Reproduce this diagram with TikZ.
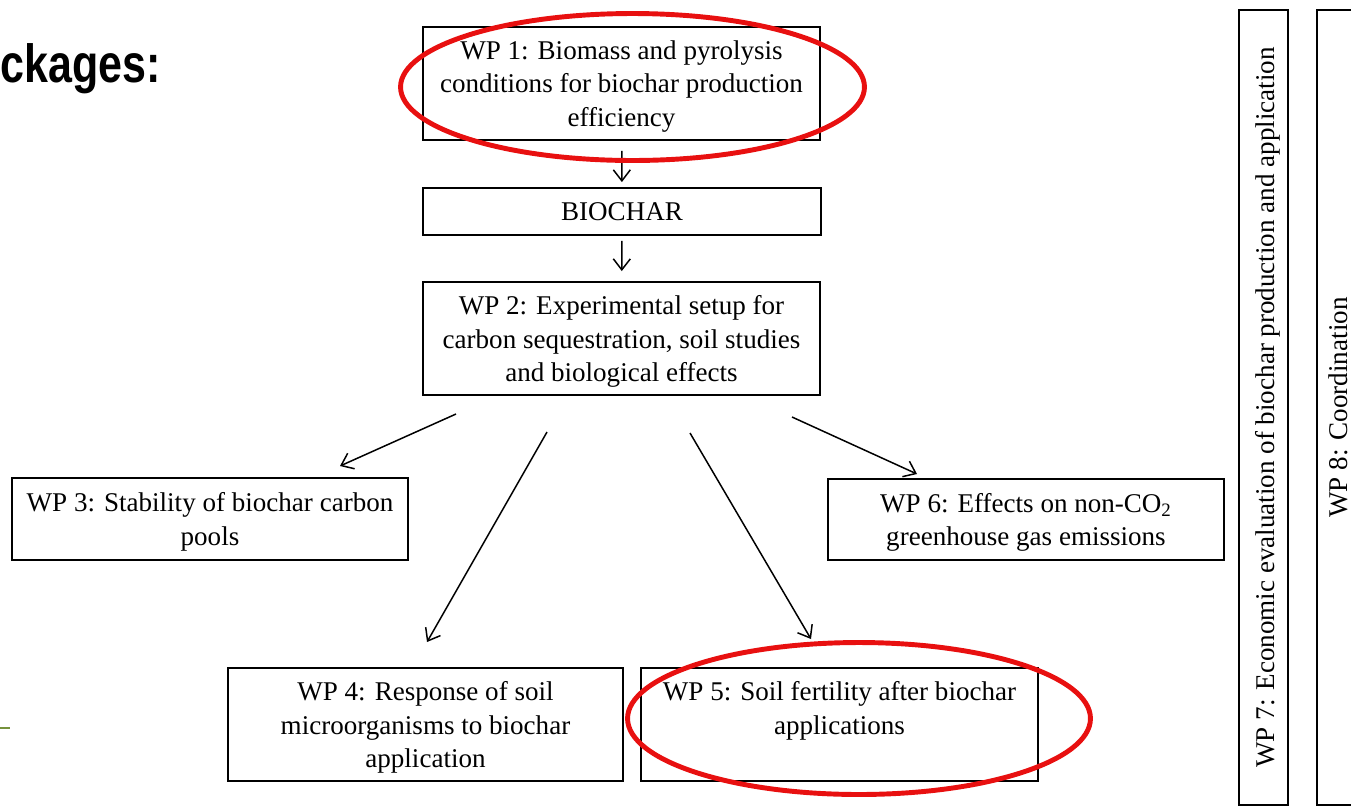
\documentclass[tikz,border=0pt]{standalone}
\usepackage{fontspec}
\setmainfont{Liberation Serif}
\newfontfamily\headfont{Liberation Sans}[FakeStretch=0.8]
\usetikzlibrary{arrows.meta}

\definecolor{markred}{RGB}{232,16,16}
\definecolor{slidegreen}{RGB}{118,146,60}

\begin{document}
\begin{tikzpicture}[
    x=0.02cm, y=-0.02cm,
    font=\fontsize{15.4}{19}\selectfont,
    >={Straight Barb[length=2.2mm,width=3.4mm]},
    wp/.style={draw, line width=1.1pt, align=center, inner sep=0pt,
               text depth=0pt},
    flow/.style={->, line width=0.85pt},
    ring/.style={draw=markred, line width=2.8pt},
  ]
  \useasboundingbox (0,0) rectangle (1351,809);
  \clip (0,0) rectangle (1351,809);

  %% ---- slide leftovers ------------------------------------------------
  \node[font=\headfont\bfseries\fontsize{30.6}{34}\selectfont, anchor=base west,
        inner sep=0pt] (head) at (0,82) {ckages:};
  \coordinate (g0) at (0,728);
  \coordinate (g1) at (10,728);
  \draw[slidegreen, line width=1.2pt] (g0) -- (g1);

  %% ---- main chain -------------------------------------------------------
  \node[wp, minimum width=7.94cm, minimum height=2.26cm] (wp1) at (621.5,83.5)
  {WP 1: Biomass and pyrolysis\\conditions for biochar production\\efficiency};
  \node[wp, minimum width=7.96cm, minimum height=0.94cm] (bc) at (622,211.5)
  {BIOCHAR};
  \node[wp, minimum width=7.94cm, minimum height=2.26cm] (wp2) at (621.5,338.5)
  {WP 2: Experimental setup for\\carbon sequestration, soil studies\\and biological effects};

  \draw[flow, shorten <=0.2cm, shorten >=0.1cm] (wp1) -- (bc);
  \draw[flow, shorten <=0.1cm, shorten >=0.2cm] (bc) -- (wp2);

  %% ---- work packages below -------------------------------------------------
  \node[wp, minimum width=7.92cm, minimum height=1.64cm] (wp3) at (210,519)
  {WP 3: Stability of biochar carbon\\pools};
  \node[wp, minimum width=7.92cm, minimum height=1.62cm] (wp6) at (1026,519.5)
  {WP 6: Effects on non-CO\textsubscript{2}\\greenhouse gas emissions};
  \node[wp, minimum width=7.9cm, minimum height=2.26cm] (wp4) at (425.5,724.5)
  {WP 4: Response of soil\\microorganisms to biochar\\application};
  \node[wp, minimum width=7.94cm, minimum height=2.26cm] (wp5) at (839.5,724.5)
  {WP 5: Soil fertility after biochar\\applications\\\strut};

  \coordinate (s3) at (456,414);  \coordinate (t3) at (340,466);
  \coordinate (s4) at (547,432);  \coordinate (t4) at (427,642);
  \coordinate (s5) at (690,433);  \coordinate (t5) at (811,639);
  \coordinate (s6) at (792,417);  \coordinate (t6) at (917,474);
  \draw[flow] (s3) -- (t3);
  \draw[flow] (s4) -- (t4);
  \draw[flow] (s5) -- (t5);
  \draw[flow] (s6) -- (t6);

  %% ---- side bars ------------------------------------------------------------
  \node[wp, rotate=90, minimum width=15.9cm, minimum height=0.98cm,
        text height=13pt] (wp7) at (1263.5,407.5)
  {WP 7: Economic evaluation of biochar production and application};
  \node[wp, rotate=90, minimum width=15.9cm, minimum height=0.84cm] (wp8)
  at (1338,407.5) {WP 8: Coordination};

  %% ---- highlights -----------------------------------------------------------
  \draw[ring] (632.5,87) ellipse [x radius=4.64cm, y radius=1.47cm];
  \draw[ring] (859,718.5) ellipse [x radius=4.63cm, y radius=1.52cm];

\end{tikzpicture}
\end{document}
